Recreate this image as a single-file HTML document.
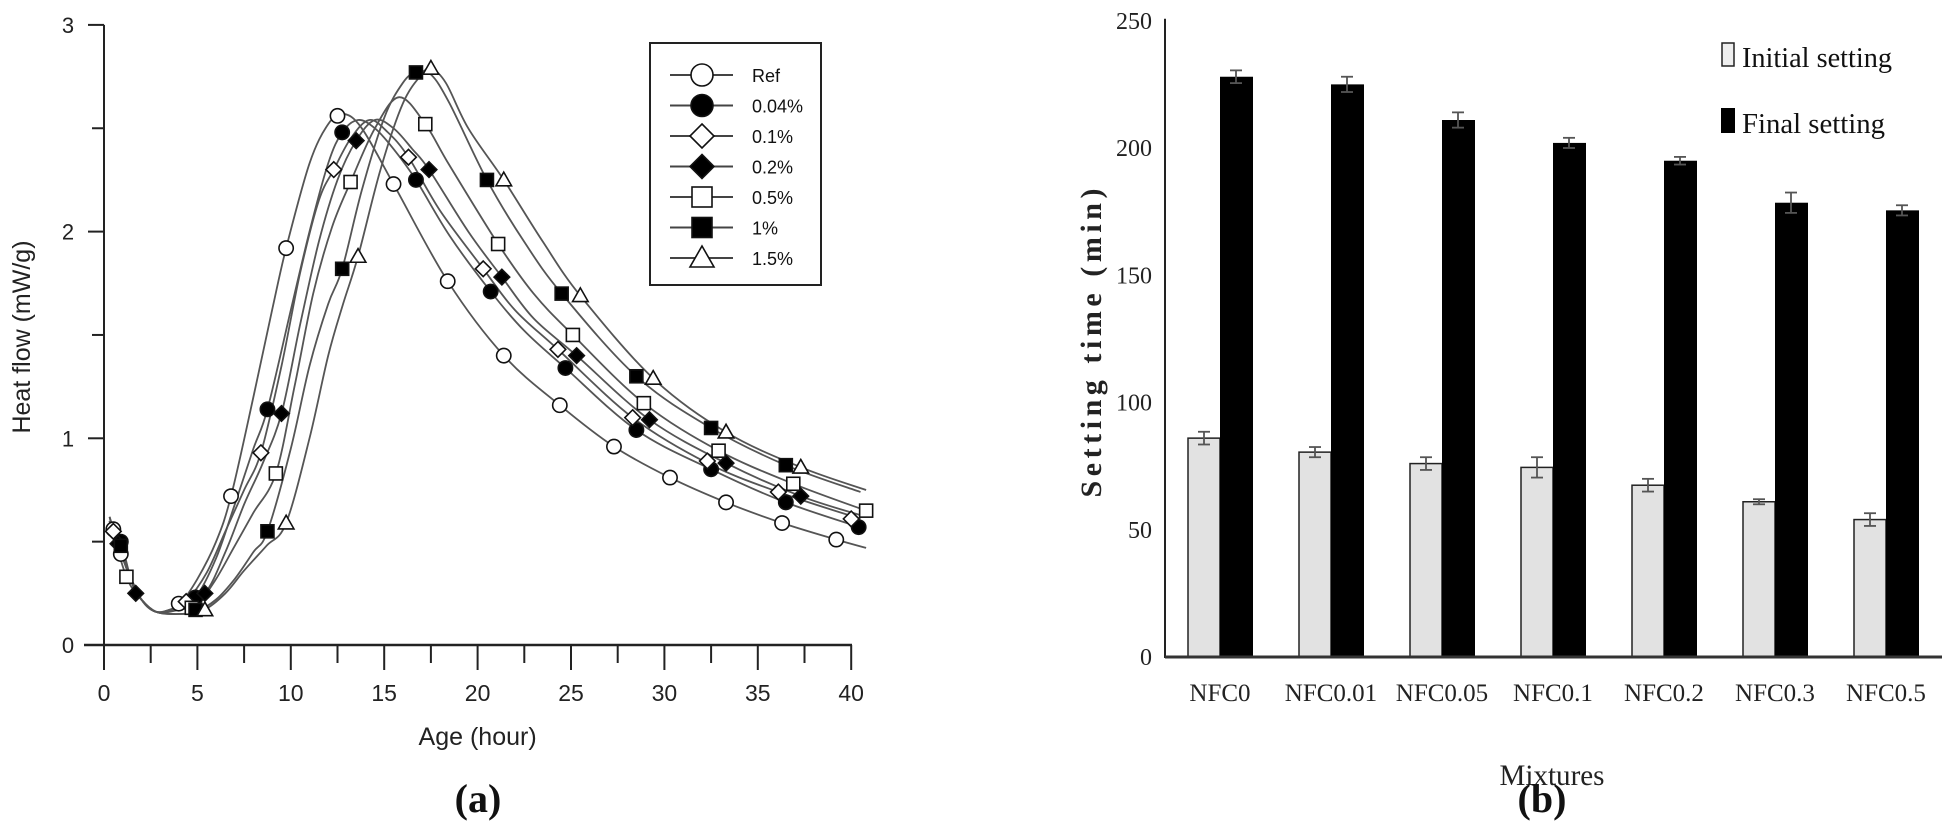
<!DOCTYPE html>
<html><head><meta charset="utf-8"><style>
html,body{margin:0;padding:0;background:#fff;}
svg{display:block;}
</style></head><body>
<svg id="fig" width="1950" height="822" viewBox="0 0 1950 822" xmlns="http://www.w3.org/2000/svg">
<g id="left"></g>
<g id="right"></g>
</svg>
<script>
// ---------- Chart (a) data ----------
const seriesNames = ["Ref","0.04%","0.1%","0.2%","0.5%","1%","1.5%"];
const xTicksA = [0,5,10,15,20,25,30,35,40];
const yTicksA = [0,1,2,3];
const curveRef = [[0.3,0.62],[0.6,0.5],[1,0.42],[1.5,0.3],[2,0.22],[2.8,0.16],[3.5,0.17],[4,0.19],[5,0.32],[6,0.5],[6.8,0.72],[8,1.2],[9,1.62],[9.75,1.92],[11,2.33],[12,2.52],[12.8,2.57],[13.8,2.5],[15.5,2.23],[18.4,1.76],[21.4,1.40],[24.4,1.16],[27.3,0.96],[30.3,0.81],[33.3,0.69],[36.3,0.59],[39.2,0.51],[40.8,0.47]];
const curve004 = [[0.3,0.6],[0.9,0.5],[1.5,0.3],[2,0.22],[2.8,0.16],[3.8,0.17],[4.9,0.23],[6,0.42],[7,0.68],[8,0.95],[8.75,1.14],[10,1.62],[11,2.0],[12,2.33],[12.75,2.48],[13.6,2.54],[14.5,2.5],[15.5,2.4],[16.7,2.25],[18.5,1.98],[20.7,1.71],[22.5,1.52],[24.7,1.34],[28.5,1.04],[32.5,0.85],[36.5,0.69],[40.8,0.56]];
const curve01 = [[0.3,0.62],[0.55,0.55],[1.2,0.38],[2,0.22],[2.8,0.16],[3.8,0.18],[4.4,0.21],[5.5,0.35],[6.5,0.55],[7.5,0.75],[8.4,0.93],[9.5,1.35],[10.5,1.8],[11.5,2.15],[12.3,2.30],[13.2,2.45],[14.2,2.54],[15.2,2.48],[16.3,2.36],[18,2.1],[20.3,1.82],[22,1.62],[24.3,1.43],[28.3,1.10],[32.3,0.88],[36.1,0.74],[40.5,0.61]];
const curve02 = [[0.3,0.6],[0.75,0.49],[1.5,0.3],[2,0.22],[2.8,0.16],[4,0.18],[5.4,0.25],[6.5,0.45],[7.5,0.68],[8.5,0.88],[9.5,1.12],[10.5,1.55],[11.5,1.95],[12.5,2.25],[13.5,2.44],[14.5,2.54],[15.5,2.5],[16.5,2.4],[17.4,2.30],[19.5,2.0],[21.3,1.78],[23,1.58],[25.3,1.40],[29.2,1.09],[33.3,0.88],[37.3,0.72],[40.8,0.62]];
const curve05 = [[0.3,0.6],[1.2,0.33],[2,0.22],[2.8,0.16],[4,0.17],[5,0.2],[6,0.32],[7,0.48],[8,0.64],[9.2,0.83],[10.2,1.25],[11.2,1.7],[12.2,2.02],[13.2,2.24],[14.5,2.5],[15.8,2.65],[17.2,2.52],[18.5,2.32],[21.1,1.94],[23,1.7],[25.1,1.50],[28.9,1.17],[32.9,0.94],[36.9,0.78],[40.8,0.65]];
const curve1 = [[0.3,0.6],[0.9,0.48],[1.5,0.3],[2,0.22],[2.8,0.16],[4,0.15],[4.9,0.16],[6,0.22],[7,0.32],[8,0.45],[8.75,0.55],[10,0.95],[11,1.35],[12,1.65],[12.75,1.82],[13.8,2.2],[15,2.55],[16,2.72],[16.7,2.77],[17.5,2.76],[18.5,2.62],[20.5,2.25],[22.5,1.95],[24.5,1.70],[28.5,1.30],[32.5,1.05],[36.5,0.87],[40.5,0.74]];
const curve15 = [[0.3,0.6],[1.5,0.3],[2,0.22],[2.8,0.16],[4,0.15],[5.35,0.17],[6.5,0.25],[7.5,0.36],[8.7,0.48],[9.75,0.59],[11,1.0],[12,1.4],[12.8,1.65],[13.6,1.88],[14.8,2.3],[16,2.62],[17,2.76],[17.5,2.79],[18.3,2.72],[19.5,2.5],[21.4,2.25],[23.5,1.95],[25.5,1.69],[29.4,1.29],[33.3,1.03],[37.3,0.86],[40.8,0.75]];
const markRef = [[0.5,0.56],[0.9,0.44],[4.0,0.20],[6.8,0.72],[9.75,1.92],[12.5,2.56],[15.5,2.23],[18.4,1.76],[21.4,1.40],[24.4,1.16],[27.3,0.96],[30.3,0.81],[33.3,0.69],[36.3,0.59],[39.2,0.51]];
const mark004 = [[0.9,0.5],[4.9,0.23],[8.75,1.14],[12.75,2.48],[16.7,2.25],[20.7,1.71],[24.7,1.34],[28.5,1.04],[32.5,0.85],[36.5,0.69],[40.4,0.57]];
const mark01 = [[0.5,0.55],[4.4,0.21],[8.4,0.93],[12.3,2.30],[16.3,2.36],[20.3,1.82],[24.3,1.43],[28.3,1.10],[32.3,0.89],[36.1,0.74],[40.0,0.61]];
const mark02 = [[0.75,0.49],[1.7,0.25],[5.4,0.25],[9.5,1.12],[13.5,2.44],[17.4,2.30],[21.3,1.78],[25.3,1.40],[29.2,1.09],[33.3,0.88],[37.3,0.72]];
const mark05 = [[1.2,0.33],[4.7,0.18],[9.2,0.83],[13.2,2.24],[17.2,2.52],[21.1,1.94],[25.1,1.50],[28.9,1.17],[32.9,0.94],[36.9,0.78],[40.8,0.65]];
const mark1 = [[0.9,0.48],[4.9,0.17],[8.75,0.55],[12.75,1.82],[16.7,2.77],[20.5,2.25],[24.5,1.70],[28.5,1.30],[32.5,1.05],[36.5,0.87]];
const mark15 = [[5.4,0.17],[9.75,0.59],[13.6,1.88],[17.5,2.79],[21.4,2.25],[25.5,1.69],[29.4,1.29],[33.3,1.03],[37.3,0.86]];

// ---------- Chart (b) data ----------
const mixtures = ["NFC0","NFC0.01","NFC0.05","NFC0.1","NFC0.2","NFC0.3","NFC0.5"];
const initialSetting = [86,80.5,76,74.5,67.5,61,54];
const initialErr = [2.5,2,2.5,4,2.5,1,2.5];
const finalSetting = [228,225,211,202,195,178.5,175.5];
const finalErr = [2.5,3,3,2,1.5,4,2];
const yTicksB = [0,50,100,150,200,250];

const NS = "http://www.w3.org/2000/svg";
function mk(parent, tag, attrs, text){
  const e = document.createElementNS(NS, tag);
  for (const k in attrs) e.setAttribute(k, attrs[k]);
  if (text !== undefined) e.textContent = text;
  parent.appendChild(e);
  return e;
}

// ===== Chart (a) =====
const L = document.getElementById('left');
const ax = h => 104 + h * 18.68;
const ay = v => 645 - v * 206.7;
const sans = '"Liberation Sans", Arial, sans-serif';
const serif = '"Liberation Serif", "Times New Roman", serif';

let e;
e = mk(L,'line',{x1:104,y1:ay(3),x2:104,y2:646,stroke:'#222','stroke-width':2});
 
e = mk(L,'line',{x1:84,y1:645,x2:852,y2:645,stroke:'#222','stroke-width':2.5});
 
for (let v=0; v<=3; v+=0.5){
  const t = mk(L,'line',{x1: Number.isInteger(v)?88:92, y1:ay(v), x2:104, y2:ay(v), stroke:'#222','stroke-width':2});
   
}
yTicksA.forEach(v=>{
  const t = mk(L,'text',{x:68,y:ay(v)+8,'text-anchor':'middle','font-family':sans,'font-size':22,fill:'#222'},String(v));
   
});
for (let h=0; h<=40; h+=2.5){
  const t = mk(L,'line',{x1:ax(h),y1:645,x2:ax(h),y2: (h%5===0)?670:663,stroke:'#222','stroke-width':2});
   
}
xTicksA.forEach(h=>{
  const t = mk(L,'text',{x:ax(h),y:701,'text-anchor':'middle','font-family':sans,'font-size':23,fill:'#222'},String(h));
   
});
e = mk(L,'text',{x:ax(20),y:745,'text-anchor':'middle','font-family':sans,'font-size':25,fill:'#222'},'Age (hour)');
 
e = mk(L,'text',{x:0,y:0,transform:'translate(30,337) rotate(-90)','text-anchor':'middle','font-family':sans,'font-size':25,fill:'#222'},'Heat flow (mW/g)');
 
e = mk(L,'text',{x:478,y:812,'text-anchor':'middle','font-family':serif,'font-weight':'bold','font-size':40,fill:'#111'},'(a)');
 

function smoothPath(pts){
  const P = pts.map(p=>[ax(p[0]),ay(p[1])]);
  let d = 'M'+P[0][0].toFixed(1)+','+P[0][1].toFixed(1);
  for (let i=0;i<P.length-1;i++){
    const p0=P[Math.max(0,i-1)], p1=P[i], p2=P[i+1], p3=P[Math.min(P.length-1,i+2)];
    const c1=[p1[0]+(p2[0]-p0[0])/6, p1[1]+(p2[1]-p0[1])/6];
    const c2=[p2[0]-(p3[0]-p1[0])/6, p2[1]-(p3[1]-p1[1])/6];
    d += ' C'+c1[0].toFixed(1)+','+c1[1].toFixed(1)+' '+c2[0].toFixed(1)+','+c2[1].toFixed(1)+' '+p2[0].toFixed(1)+','+p2[1].toFixed(1);
  }
  return d;
}
function marker(parent, type, cx, cy, s){
  const st = '#111', sw = 1.6;
  let m;
  if (type==='circle-open') m = mk(parent,'circle',{cx,cy,r:s*0.55,fill:'#fff',stroke:st,'stroke-width':sw});
  else if (type==='circle-filled') m = mk(parent,'circle',{cx,cy,r:s*0.55,fill:'#000',stroke:st,'stroke-width':sw});
  else if (type==='diamond-open'||type==='diamond-filled'){
    const r=s*0.6;
    m = mk(parent,'polygon',{points:`${cx},${cy-r} ${cx+r},${cy} ${cx},${cy+r} ${cx-r},${cy}`,fill:type==='diamond-open'?'#fff':'#000',stroke:st,'stroke-width':sw});
  } else if (type==='square-open'||type==='square-filled'){
    const r=s*0.5;
    m = mk(parent,'rect',{x:cx-r,y:cy-r,width:2*r,height:2*r,fill:type==='square-open'?'#fff':'#000',stroke:st,'stroke-width':sw});
  } else {
    const r=s*0.6;
    m = mk(parent,'polygon',{points:`${cx},${cy-r} ${cx+r},${cy+r*0.75} ${cx-r},${cy+r*0.75}`,fill:'#fff',stroke:st,'stroke-width':sw});
  }
  return m;
}
const curves = [curveRef,curve004,curve01,curve02,curve05,curve1,curve15];
const marks = [markRef,mark004,mark01,mark02,mark05,mark1,mark15];
const types = ['circle-open','circle-filled','diamond-open','diamond-filled','square-open','square-filled','triangle-open'];
curves.forEach((c,i)=>{
  const p = mk(L,'path',{d:smoothPath(c),fill:'none',stroke:'#555','stroke-width':1.8});
  
  
});
marks.forEach((m,i)=>{
  m.forEach(pt=>{
    const mm = marker(L, types[i], ax(pt[0]), ay(pt[1]), 13);
    
    
  });
});
// legend
e = mk(L,'rect',{x:650,y:43,width:171,height:242,fill:'#fff',stroke:'#222','stroke-width':2});
 
seriesNames.forEach((n,i)=>{
  const y = 75 + i*30.5;
  const g = mk(L,'g',{});
   
  mk(g,'line',{x1:670,y1:y,x2:733,y2:y,stroke:'#444','stroke-width':2});
  marker(g, types[i], 702, y, 20);
  mk(g,'text',{x:752,y:y+7,'font-family':sans,'font-size':18,fill:'#111'},n);
});

// ===== Chart (b) =====
const R = document.getElementById('right');
const by = v => 657 - v * 2.545;
const groupX = i => 1188 + i * 111;
const bw = 32;
e = mk(R,'line',{x1:1165,y1:by(250)-2,x2:1165,y2:658,stroke:'#222','stroke-width':2});
 
yTicksB.forEach(v=>{
  const t = mk(R,'text',{x:1152,y:by(v)+8,'text-anchor':'end','font-family':serif,'font-size':24,fill:'#222'},String(v));
   
});
mixtures.forEach((m,i)=>{
  const x0 = groupX(i);
  const b1 = mk(R,'rect',{x:x0,y:by(initialSetting[i]),width:bw,height:by(0)-by(initialSetting[i]),fill:'#e2e2e2',stroke:'#222','stroke-width':1.5});
  
  
  const b2 = mk(R,'rect',{x:x0+bw,y:by(finalSetting[i]),width:bw+1,height:by(0)-by(finalSetting[i]),fill:'#000'});
  
  
  [[x0+bw/2,initialSetting[i],initialErr[i]],[x0+bw*1.5,finalSetting[i],finalErr[i]]].forEach(a=>{
    const g = mk(R,'g',{stroke:'#555','stroke-width':1.8});
     
    mk(g,'line',{x1:a[0],y1:by(a[1]+a[2]),x2:a[0],y2:by(a[1]-a[2])});
    mk(g,'line',{x1:a[0]-6,y1:by(a[1]+a[2]),x2:a[0]+6,y2:by(a[1]+a[2])});
    mk(g,'line',{x1:a[0]-6,y1:by(a[1]-a[2]),x2:a[0]+6,y2:by(a[1]-a[2])});
  });
  const t = mk(R,'text',{x:x0+bw,y:701,'text-anchor':'middle','font-family':serif,'font-size':25,fill:'#222'},m);
   
});
e = mk(R,'line',{x1:1165,y1:657,x2:1942,y2:657,stroke:'#333','stroke-width':3});
 
e = mk(R,'text',{x:1552,y:785,'text-anchor':'middle','font-family':serif,'font-size':30,fill:'#222',textLength:105,lengthAdjust:'spacingAndGlyphs'},'Mixtures');
 
e = mk(R,'text',{x:0,y:0,transform:'translate(1101,343) rotate(-90)','text-anchor':'middle','font-family':serif,'font-weight':'bold','font-size':30,fill:'#222',textLength:309,lengthAdjust:'spacing'},'Setting  time  (min)');
 
e = mk(R,'text',{x:1542,y:812,'text-anchor':'middle','font-family':serif,'font-weight':'bold','font-size':40,fill:'#111'},'(b)');
 
// legend
let lg = mk(R,'g',{});
 
mk(lg,'rect',{x:1722,y:43,width:12,height:23,fill:'#eee',stroke:'#222','stroke-width':1.5});
mk(lg,'text',{x:1742,y:67,'font-family':serif,'font-size':29,fill:'#111',textLength:150,lengthAdjust:'spacingAndGlyphs'},'Initial setting');
lg = mk(R,'g',{});
 
mk(lg,'rect',{x:1721,y:108,width:14,height:25,fill:'#000'});
mk(lg,'text',{x:1742,y:133,'font-family':serif,'font-size':29,fill:'#111',textLength:143,lengthAdjust:'spacingAndGlyphs'},'Final setting');
</script>
</body></html>
